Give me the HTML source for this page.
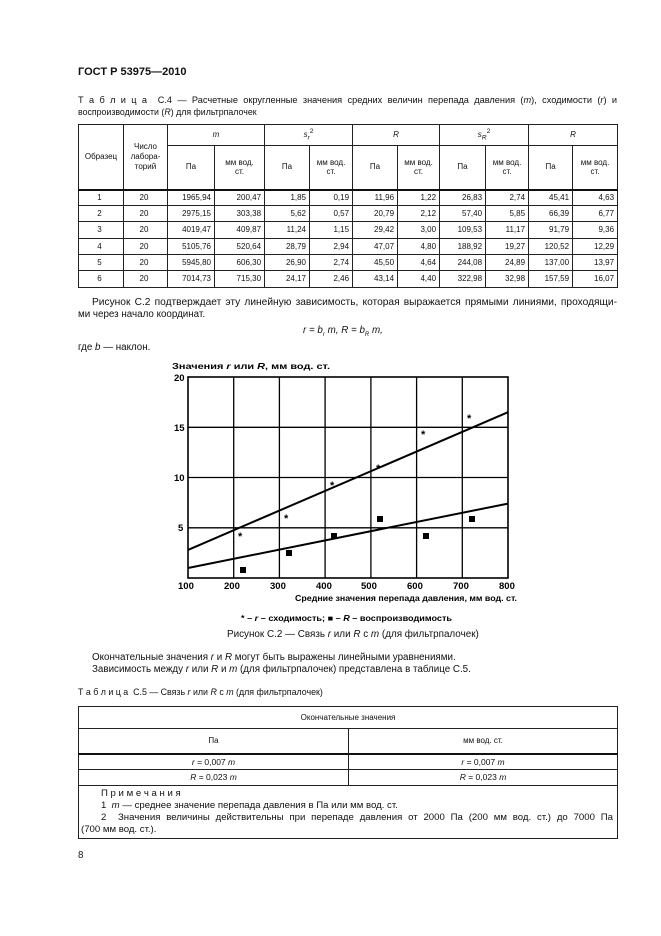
<!DOCTYPE html>
<html><head><meta charset="utf-8"><style>
body{margin:0;background:#fff;width:661px;height:936px;position:relative;font-family:"Liberation Sans",sans-serif;color:#111;overflow:hidden}
.t{position:absolute;white-space:nowrap;font-size:9.8px;line-height:1}
.j{white-space:normal;text-align:justify;text-align-last:justify}
.b{font-weight:bold}
table{position:absolute;border-collapse:collapse;font-size:8px;table-layout:fixed}
td{border:1px solid #222;text-align:center;padding:0;line-height:1.2}
.r td{text-align:right;padding-right:3px}
</style></head><body>
<div class="t b" style="left:78px;top:67px;font-size:11px">ГОСТ Р 53975—2010</div>
<div class="t j" style="left:78px;top:96px;width:539px;font-size:9.2px">Т а б л и ц а&nbsp; С.4 — Расчетные округленные значения средних величин перепада давления (<i>m</i>), сходимости (<i>r</i>) и</div>
<div class="t" style="left:78px;top:108px;font-size:8.8px">воспроизводимости (<i>R</i>) для фильтрпалочек</div>

<table style="left:78px;top:124px;width:539px">
<colgroup><col style="width:45px"><col style="width:44px"><col style="width:47px"><col style="width:50px"><col style="width:45px"><col style="width:43px"><col style="width:45px"><col style="width:42px"><col style="width:46px"><col style="width:43px"><col style="width:44px"><col style="width:45px"></colgroup>
<tr style="height:21px"><td rowspan="2">Образец</td><td rowspan="2">Число<br>лабора-<br>торий</td><td colspan="2"><i>m</i></td><td colspan="2"><i>s<sub>r</sub></i><sup>2</sup></td><td colspan="2"><i>R</i></td><td colspan="2"><i>s<sub>R</sub></i><sup>2</sup></td><td colspan="2"><i>R</i></td></tr>
<tr style="height:44px;border-bottom:2px solid #111"><td>Па</td><td>мм вод.<br>ст.</td><td>Па</td><td>мм вод.<br>ст.</td><td>Па</td><td>мм вод.<br>ст.</td><td>Па</td><td>мм вод.<br>ст.</td><td>Па</td><td>мм вод.<br>ст.</td></tr>
<tr class="r" style="height:16px"><td style="text-align:center">1</td><td style="text-align:center">20</td><td>1965,94</td><td>200,47</td><td>1,85</td><td>0,19</td><td>11,96</td><td>1,22</td><td>26,83</td><td>2,74</td><td>45,41</td><td>4,63</td></tr>
<tr class="r" style="height:16px"><td style="text-align:center">2</td><td style="text-align:center">20</td><td>2975,15</td><td>303,38</td><td>5,62</td><td>0,57</td><td>20,79</td><td>2,12</td><td>57,40</td><td>5,85</td><td>66,39</td><td>6,77</td></tr>
<tr class="r" style="height:17px"><td style="text-align:center">3</td><td style="text-align:center">20</td><td>4019,47</td><td>409,87</td><td>11,24</td><td>1,15</td><td>29,42</td><td>3,00</td><td>109,53</td><td>11,17</td><td>91,79</td><td>9,36</td></tr>
<tr class="r" style="height:16px"><td style="text-align:center">4</td><td style="text-align:center">20</td><td>5105,76</td><td>520,64</td><td>28,79</td><td>2,94</td><td>47,07</td><td>4,80</td><td>188,92</td><td>19,27</td><td>120,52</td><td>12,29</td></tr>
<tr class="r" style="height:16px"><td style="text-align:center">5</td><td style="text-align:center">20</td><td>5945,80</td><td>606,30</td><td>26,90</td><td>2,74</td><td>45,50</td><td>4,64</td><td>244,08</td><td>24,89</td><td>137,00</td><td>13,97</td></tr>
<tr class="r" style="height:17px"><td style="text-align:center">6</td><td style="text-align:center">20</td><td>7014,73</td><td>715,30</td><td>24,17</td><td>2,46</td><td>43,14</td><td>4,40</td><td>322,98</td><td>32,98</td><td>157,59</td><td>16,07</td></tr>
</table>

<div class="t j" style="left:92px;top:298px;width:525px;font-size:10.2px">Рисунок С.2 подтверждает эту линейную зависимость, которая выражается прямыми линиями, проходящи-</div>
<div class="t" style="left:78px;top:310px">ми через начало координат.</div>
<div class="t" style="left:303px;top:326px;font-style:italic">r = b<sub style="font-size:6px">r</sub> m, R = b<sub style="font-size:6px">R</sub> m,</div>
<div class="t" style="left:78px;top:343px">где <i>b</i> — наклон.</div>

<svg style="position:absolute;left:0;top:0" width="661" height="936">
<g font-family="Liberation Sans" font-weight="bold" font-size="9" fill="#000">
<text x="172" y="369" font-size="8.5" textLength="158" lengthAdjust="spacingAndGlyphs">Значения <tspan font-style="italic">r</tspan> или <tspan font-style="italic">R</tspan>, мм вод. ст.</text>
<rect x="188" y="377" width="320" height="201" fill="none" stroke="#000" stroke-width="1.6"/>
<g stroke="#000" stroke-width="1.3">
<line x1="233.7" y1="377" x2="233.7" y2="578"/><line x1="279.4" y1="377" x2="279.4" y2="578"/><line x1="325.1" y1="377" x2="325.1" y2="578"/><line x1="370.9" y1="377" x2="370.9" y2="578"/><line x1="416.6" y1="377" x2="416.6" y2="578"/><line x1="462.3" y1="377" x2="462.3" y2="578"/>
<line x1="188" y1="427.3" x2="508" y2="427.3"/><line x1="188" y1="477.5" x2="508" y2="477.5"/><line x1="188" y1="527.8" x2="508" y2="527.8"/>
</g>
<g stroke="#000" stroke-width="2">
<line x1="188" y1="549.9" x2="508" y2="412.2"/>
<line x1="188" y1="568" x2="508" y2="503.6"/>
</g>
<g font-size="9.5">
<text x="174" y="381">20</text><text x="174" y="431">15</text><text x="174" y="481">10</text><text x="178" y="531">5</text>
<text x="178" y="589">100</text><text x="224" y="589">200</text><text x="270" y="589">300</text><text x="316" y="589">400</text><text x="361" y="589">500</text><text x="407" y="589">600</text><text x="453" y="589">700</text><text x="499" y="589">800</text>
</g>
<text x="295" y="601" font-size="8.5" textLength="222" lengthAdjust="spacingAndGlyphs">Средние значения перепада давления, мм вод. ст.</text>
<g font-size="11">
<text x="238" y="540">*</text><text x="284" y="522">*</text><text x="330" y="489">*</text><text x="376" y="472">*</text><text x="421" y="438">*</text><text x="467" y="422">*</text>
</g>
<g>
<rect x="240" y="567" width="6" height="6"/><rect x="286" y="550" width="6" height="6"/><rect x="331" y="533" width="6" height="6"/><rect x="377" y="516" width="6" height="6"/><rect x="423" y="533" width="6" height="6"/><rect x="469" y="516" width="6" height="6"/>
</g>
<text x="241" y="621" font-size="8" textLength="211" lengthAdjust="spacingAndGlyphs">* – <tspan font-style="italic">r</tspan> – сходимость;  <tspan>■</tspan> – <tspan font-style="italic">R</tspan> – воспроизводимость</text>
</g>
</svg>

<div class="t" style="left:227px;top:630px;font-size:9.9px">Рисунок С.2 — Связь <i>r</i> или <i>R</i> с <i>m</i> (для фильтрпалочек)</div>
<div class="t" style="left:92px;top:653px;font-size:9.8px">Окончательные значения <i>r</i> и <i>R</i> могут быть выражены линейными уравнениями.</div>
<div class="t" style="left:92px;top:665px;font-size:9.8px">Зависимость между <i>r</i> или <i>R</i> и <i>m</i> (для фильтрпалочек) представлена в таблице С.5.</div>
<div class="t" style="left:78px;top:688px;font-size:8.85px">Т а б л и ц а&nbsp; С.5 — Связь <i>r</i> или <i>R</i> с <i>m</i> (для фильтрпалочек)</div>

<table style="left:78px;top:706px;width:539px">
<colgroup><col style="width:270px"><col style="width:269px"></colgroup>
<tr style="height:22px"><td colspan="2">Окончательные значения</td></tr>
<tr style="height:25px;border-bottom:2px solid #111"><td>Па</td><td>мм вод. ст.</td></tr>
<tr style="height:16px;font-size:8.5px"><td><i>r</i> = 0,007 <i>m</i></td><td><i>r</i> = 0,007 <i>m</i></td></tr>
<tr style="height:16px;font-size:8.5px"><td><i>R</i> = 0,023 <i>m</i></td><td><i>R</i> = 0,023 <i>m</i></td></tr>
<tr style="height:53px"><td colspan="2" style="text-align:left;vertical-align:top;font-size:9.6px;line-height:12px;padding:2px 4px 0 2px">
<div style="padding-left:20px">П р и м е ч а н и я</div>
<div style="padding-left:20px">1&nbsp; <i>m</i> — среднее значение перепада давления в Па или мм вод. ст.</div>
<div style="padding-left:20px;text-align:justify;text-align-last:justify">2&nbsp; Значения величины действительны при перепаде давления от 2000 Па (200 мм вод. ст.) до 7000 Па</div>
<div>(700 мм вод. ст.).</div></td></tr>
</table>
<div class="t" style="left:78px;top:851px">8</div>
</body></html>
